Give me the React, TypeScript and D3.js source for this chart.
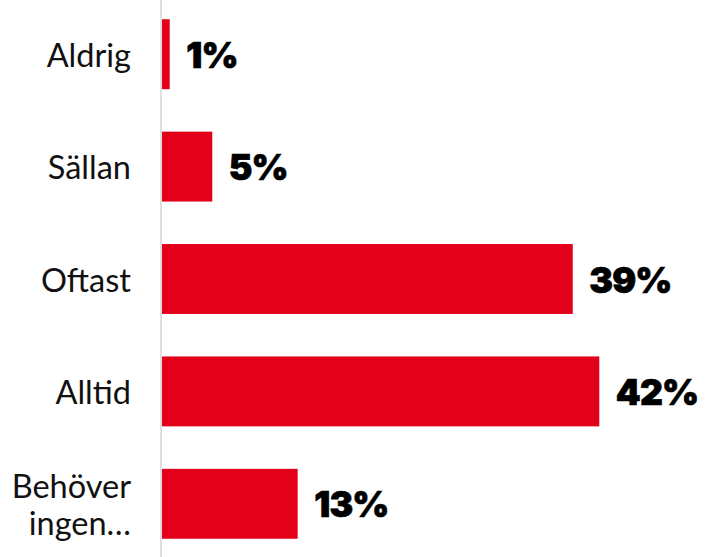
import React from "react";
import * as d3 from "d3";

const categories: string[][] = [["Aldrig"], ["Sällan"], ["Oftast"], ["Alltid"], ["Behöver", "ingen…"]];
const values: number[] = [0.74, 4.83, 39.45, 42.0, 13.03];
const valueLabels: string[] = ["1%", "5%", "39%", "42%", "13%"];

const W = 705;
const H = 557;

export default function App() {
  const keys = categories.map((c) => c.join(" "));
  const y = d3.scaleBand<string>().domain(keys).range([-2, 560]).paddingInner(0.378).paddingOuter(0.189);
  const x = d3.scaleLinear().domain([0, 42]).range([162, 599.3]);
  const axisX = 161;
  return (
    <svg width={W} height={H} style={{ position: "absolute", left: 0, top: 0, background: "#fff" }}>
      <line x1={axisX} x2={axisX} y1={0} y2={H} stroke="#d4d4d4" strokeWidth={1.5} />
      {keys.map((k, i) => {
        const y0 = y(k)!;
        const bw = y.bandwidth();
        const cy = y0 + bw / 2;
        const lines = categories[i];
        const lh = 36.7;
        return (
          <g key={k}>
            <rect x={x(0)} y={y0} width={x(values[i]) - x(0)} height={bw} fill="#e3001b" />
            {lines.map((ln, j) => (
              <text
                key={j}
                x={131}
                y={cy + (j - (lines.length - 1) / 2) * lh}
                textAnchor="end"
                dominantBaseline="central"
                fontFamily="Lato"
                fontSize={32.5}
                fill="#111"
              >
                {ln}
              </text>
            ))}
            <text
              x={x(values[i]) + 16.5}
              y={cy + 1}
              dominantBaseline="central"
              fontFamily="Inter"
              fontWeight={900}
              fontSize={35.5}
              letterSpacing={-0.8}
              fill="#000"
              stroke="#000"
              strokeWidth={0.7}
            >
              {valueLabels[i]}
            </text>
          </g>
        );
      })}
    </svg>
  );
}
